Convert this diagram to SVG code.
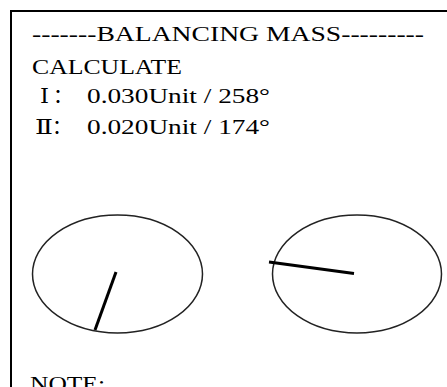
<svg xmlns="http://www.w3.org/2000/svg" width="447" height="387" viewBox="0 0 447 387">
<style>
.t{font-family:"Liberation Serif","DejaVu Serif","Noto Sans CJK SC",serif;font-size:20px;fill:#000}
.dial{fill:none;stroke:#222;stroke-width:1.5}
.needle{stroke:#000;stroke-width:3;stroke-linecap:butt}
.frame{stroke:#000;stroke-width:2;fill:none}
</style>
<rect width="447" height="387" fill="#fff"/>
<g id="frame"><path class="frame" d="M11,387 V11 H447"/></g>
<g id="texts">
<text class="t" x="32" y="41" textLength="392" lengthAdjust="spacingAndGlyphs">-------BALANCING MASS---------</text>
<text class="t" x="32" y="74" textLength="150" lengthAdjust="spacingAndGlyphs">CALCULATE</text>
<text class="t" x="40" y="103" textLength="9" lengthAdjust="spacingAndGlyphs">Ⅰ</text>
<text class="t" x="53" y="103">：</text>
<text class="t" x="87" y="103" textLength="183" lengthAdjust="spacingAndGlyphs">0.030Unit / 258°</text>
<text class="t" x="35" y="134" textLength="18" lengthAdjust="spacingAndGlyphs">Ⅱ</text>
<text class="t" x="52" y="134">：</text>
<text class="t" x="87" y="134" textLength="183" lengthAdjust="spacingAndGlyphs">0.020Unit / 174°</text>
<text class="t" x="30" y="391" textLength="75" lengthAdjust="spacingAndGlyphs">NOTE:</text>
</g>
<g id="dial1">
<ellipse class="dial" cx="117.5" cy="274" rx="85" ry="59"/>
</g>
<g id="dial2">
<ellipse class="dial" cx="357" cy="274" rx="84.5" ry="59"/>
</g>
<g id="connectors">
<line class="needle" x1="116" y1="272" x2="95" y2="330"/>
<line class="needle" x1="354" y1="273.5" x2="269" y2="262"/>
</g>
</svg>
